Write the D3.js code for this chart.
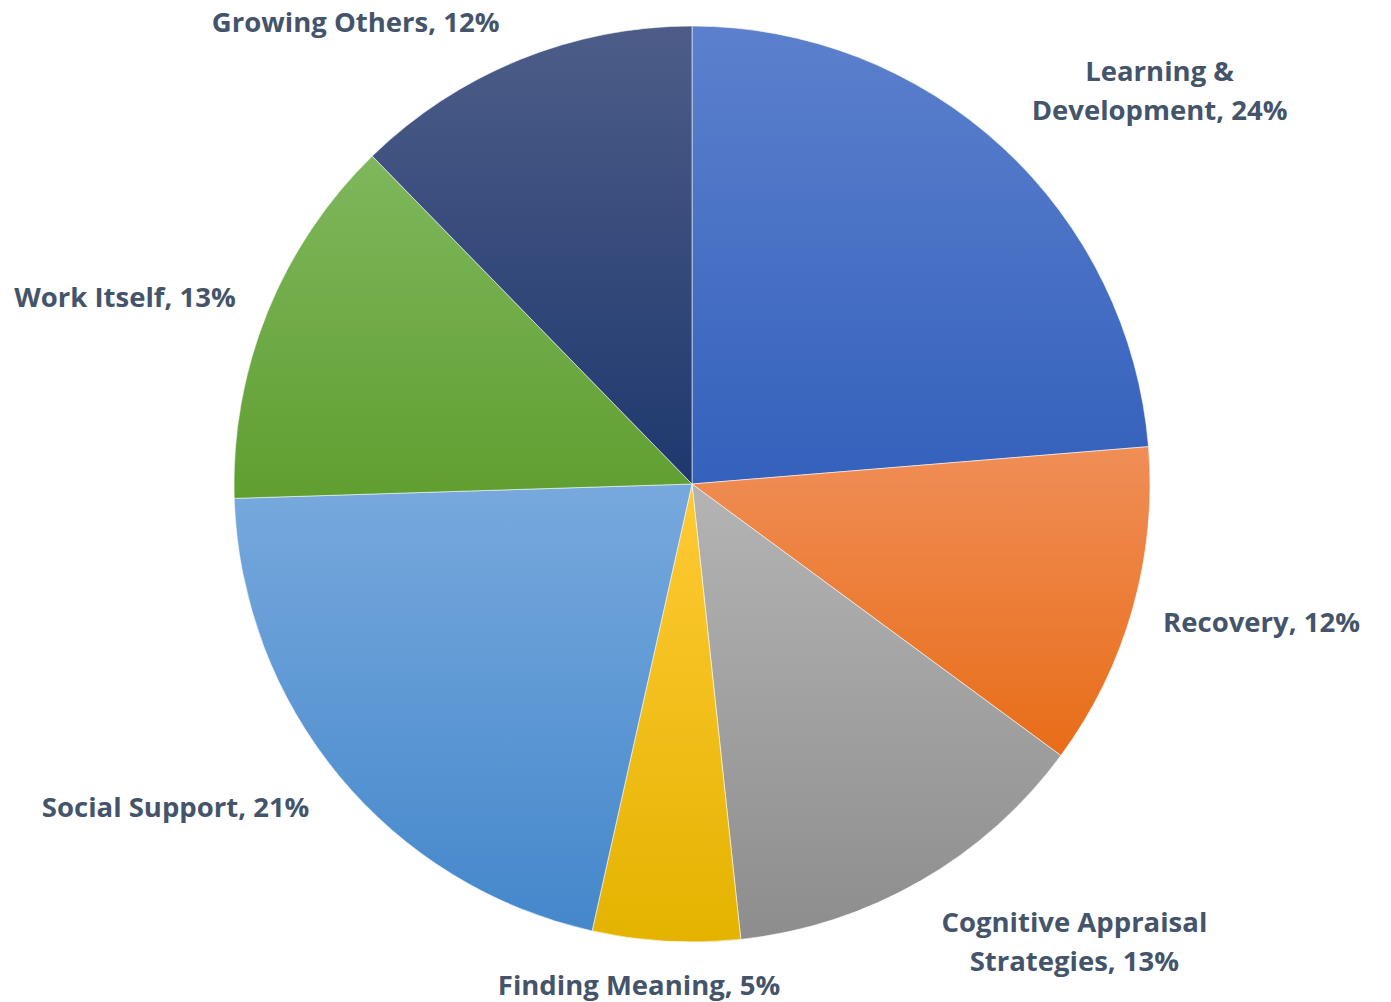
<!DOCTYPE html>
<html>
<head>
<meta charset="utf-8">
<script src="https://cdn.jsdelivr.net/npm/d3@7"></script>
<style>
	html, body { margin: 0; padding: 0; background: #fff; }
	svg { display: block; }
	.pie-label { font-family: 'Open Sans', sans-serif; font-weight: 700; fill: #44546a; }
</style>
</head>
<body>
<div id="chart"></div>
<script>
// chart data
const categories = ['Learning & Development', 'Recovery', 'Cognitive Appraisal Strategies', 'Finding Meaning', 'Social Support', 'Work Itself', 'Growing Others'];
const values = [23.7, 11.4, 13.2, 5.2, 21.0, 13.2, 12.3];
// percentages as printed on the chart
const percentLabels = [24, 12, 13, 5, 21, 13, 12];
// label lines (Excel wraps the long ones)
const labelLines = [['Learning &', 'Development'], ['Recovery'], ['Cognitive Appraisal', 'Strategies'], ['Finding Meaning'], ['Social Support'], ['Work Itself'], ['Growing Others']];

// gradient stops, top -> bottom
const topColors = ['#5c80cd', '#f08e57', '#b4b4b4', '#ffca35', '#77a9dd', '#7fb75c', '#4d5d88'];
const bottomColors = ['#3461bc', '#e86d18', '#8d8d8d', '#e4b300', '#4487cb', '#5f9f30', '#1e386e'];

// Excel moves its best-fit labels around, so a little nudge per label
const labelNudge = [[57, -14], [15, 3], [78, 10], [-18, 6], [-45, 7], [-21, -1], [-102, -2]];

const width = 1391,
	height = 1002,
	cx = 692,
	cy = 484,
	radius = 458,
	fontSize = 27.5,
	lineHeight = 39.5;

let svg = d3.select('#chart').append('svg')
		.attr('width', width)
		.attr('height', height);

let defs = svg.append('defs');

topColors.forEach((c, i) => {
	let grad = defs.append('linearGradient')
			.attr('id', 'grad' + i)
			.attr('x1', '0%').attr('y1', '0%')
			.attr('x2', '0%').attr('y2', '100%');
	grad.append('stop').attr('offset', '0%').attr('stop-color', c);
	grad.append('stop').attr('offset', '100%').attr('stop-color', bottomColors[i]);
});

let pie = d3.pie().sort(null).value((d) => d);
let arcs = pie(values);

let arc = d3.arc().innerRadius(0).outerRadius(radius);

let g = svg.append('g').attr('transform', `translate(${cx},${cy})`);

g.selectAll('.slice')
		.data(arcs)
		.enter()
		.append('path')
		.attr('class', 'slice')
		.attr('d', arc)
		.attr('fill', (d, i) => `url(#grad${i})`)
		.attr('stroke', 'rgba(255,255,255,0.55)')
		.attr('stroke-width', 1);

// labels
let labels = g.selectAll('.pie-label')
		.data(arcs)
		.enter()
		.append('text')
		.attr('class', 'pie-label')
		.attr('font-size', fontSize)
		.attr('text-anchor', 'middle');

labels.each(function(d, i) {
	let t = d3.select(this);
	let lines = labelLines[i].slice();
	lines[lines.length - 1] += ', ' + percentLabels[i] + '%';
	lines.forEach((l, k) => {
		t.append('tspan')
			.attr('x', 0)
			.attr('dy', k === 0 ? 0 : lineHeight)
			.text(l);
	});

	let box = this.getBBox();
	let a = (d.startAngle + d.endAngle) / 2;
	let r = radius + 20;
	let px = r * Math.sin(a),
		py = -r * Math.cos(a);
	let w = box.width,
		h = lines.length * lineHeight - 3;
	let mx = px + Math.sin(a) * w / 2 + labelNudge[i][0],
		my = py - Math.cos(a) * h / 2 + labelNudge[i][1];
	// baseline of first line so the block is centred on (mx, my)
	let firstBase = my - (lines.length - 1) * lineHeight / 2 + fontSize * 0.36;
	t.attr('transform', `translate(${mx},${firstBase})`);
});
</script>
</body>
</html>
